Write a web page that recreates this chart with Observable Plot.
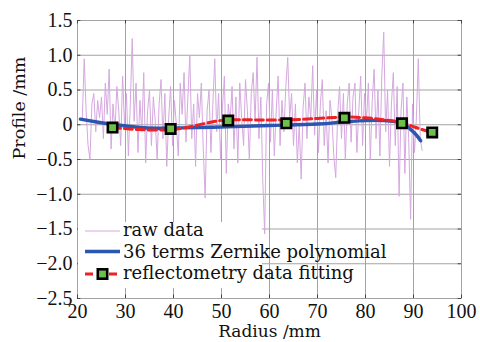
<!DOCTYPE html>
<html><head><meta charset="utf-8">
<script src="https://cdn.jsdelivr.net/npm/d3@7"></script>
<script src="https://cdn.jsdelivr.net/npm/@observablehq/plot@0.6"></script>
<style>
body{margin:0;background:#fff;}
#wrap{position:relative;width:480px;height:342px;font-family:"DejaVu Serif",serif;}
#legend{position:absolute;left:78px;top:222px;width:184px;height:66px;background:#fff;overflow:visible;}
#legend svg{display:block;overflow:visible;}
</style></head><body><div id="wrap"></div>
<script>
// raw profile samples, radius starts at rawStart (mm), spacing rawStep (mm)
const rawStart = 21.0, rawStep = 0.4;
const rawProfile = [
 0.1, 0.95, 0.2, -0.3, -0.5, 0.3, 0.45, -0.1, 0.35, 0.1,
 0.4, -0.2, 0.6, 0.15, 0.8, -0.35, 0.3, -0.1, 0.55, 0.2,
 -0.3, 0.7, 0.0, 0.45, -0.45, 0.3, 1.24, 0.05, 0.6, -0.4,
 0.35, -0.1, 0.75, -0.55, 0.2, 0.5, -0.3, 0.4, 0.05, -0.5,
 0.3, 0.65, -0.2, 0.45, -0.6, 0.1, 0.55, -0.3, 0.35, 0.0,
 -0.45, 0.6, 0.15, 0.75, -0.25, 0.4, 1.0, -0.2, 0.3, -0.6,
 0.45, 0.1, 0.6, -0.35, -1.05, 0.2, 0.5, -0.4, 0.3, 0.95,
 -0.1, 0.45, -0.5, 0.25, 0.7, -0.7, 0.3, 0.05, 0.55, -0.35,
 0.4, -0.55, 0.6, 0.1, -0.3, 0.65, 0.2, -0.5, 0.45, 0.75,
 0.05, 0.97, -0.2, 0.4, -0.8, -1.57, 0.3, 0.6, -0.25, 0.5,
 -0.45, 0.2, 0.7, -0.3, 0.35, -0.1, 0.55, 0.97, 0.1, 0.45,
 -0.3, 0.3, -0.55, 0.0, -0.78, 0.25, 0.6, -0.2, 0.4, 0.1,
 0.85, -0.15, 0.5, -0.4, 0.3, 0.65, -0.3, 0.2, -0.55, 0.35,
 0.1, -0.45, -0.76, 0.15, 0.55, -0.2, 0.45, -0.5, 0.3, 0.6,
 -0.25, 0.4, 0.6, -0.4, 0.2, 0.7, -0.3, 0.45, 0.05, 0.6,
 -0.5, 0.35, 0.8, -0.2, 0.5, -0.45, 0.7, 1.33, -0.1, 0.5,
 -0.6, 0.3, 0.75, -0.3, 0.55, -1.03, 0.2, 0.6, -0.7, 0.4,
 -0.2, -1.36, 0.3, -0.4, 0.1, 0.95, -0.2, -0.37
];
const zernikeR = [20.6, 24, 28, 33, 37, 45, 51, 60, 70, 75, 80, 84, 87.6, 89.3, 90.5, 91.5];
const zernikeV = [0.08, 0.04, 0.0, -0.04, -0.05, -0.04, -0.03, -0.01, 0.01, 0.04, 0.06, 0.06, 0.02, -0.06, -0.14, -0.23];
const fitR = [27.3, 33, 39.4, 44, 48, 51.5, 57, 63.5, 70, 75.6, 80, 84, 87.6, 90.5, 93.9];
const fitV = [-0.04, -0.07, -0.07, -0.02, 0.04, 0.07, 0.07, 0.07, 0.09, 0.11, 0.10, 0.07, 0.03, -0.04, -0.11];
const sampleR = [27.3, 39.4, 51.4, 63.5, 75.6, 87.6, 93.9];
const sampleV = [-0.04, -0.06, 0.06, 0.02, 0.10, 0.02, -0.11];
const xTicks = [20, 30, 40, 50, 60, 70, 80, 90, 100];
const yTicks = [-2.5, -2.0, -1.5, -1.0, -0.5, 0, 0.5, 1.0, 1.5];
const legendLabels = ["raw data", "36 terms Zernike polynomial", "reflectometry data fitting"];
const xLabel = "Radius /mm", yLabel = "Profile /mm";

const C = {raw: "#d6a8e0", zern: "#2a55b0", fit: "#ee2222", sq: "#6cbf48", grid: "#a3a3a3"};
const serif = "'DejaVu Serif', serif";
const numFont = "'Liberation Serif', serif";

const raw = rawProfile.map((v, i) => ({r: +(rawStart + i * rawStep).toFixed(2), v}));
const zern = zernikeR.map((r, i) => ({r, v: zernikeV[i]}));
const fit = fitR.map((r, i) => ({r, v: fitV[i]}));
const samples = sampleR.map((r, i) => ({r, v: sampleV[i]}));
const fmt = d => d === 0 ? "0" : d3.format(".1f")(d);

const plot = Plot.plot({
  width: 480, height: 342,
  marginLeft: 77, marginRight: 19, marginTop: 20, marginBottom: 44,
  style: "font-family: 'DejaVu Serif', serif; font-size: 16px; color: #111; background: #fff;",
  x: {domain: [20, 100]},
  y: {domain: [-2.5, 1.5]},
  marks: [
    Plot.gridX(xTicks, {stroke: C.grid, strokeOpacity: 1}),
    Plot.gridY(yTicks, {stroke: C.grid, strokeOpacity: 1}),
    Plot.frame({stroke: C.grid}),
    Plot.ruleX(xTicks, {x: d => d, y1: -2.5, y2: -2.45, stroke: "#444"}),
    Plot.ruleX(xTicks, {x: d => d, y1: 1.5, y2: 1.45, stroke: "#444"}),
    Plot.ruleY(yTicks, {y: d => d, x1: 20, x2: 20.7, stroke: "#444"}),
    Plot.ruleY(yTicks, {y: d => d, x1: 100, x2: 99.3, stroke: "#444"}),
    Plot.axisX(xTicks, {tickSize: 0, tickPadding: 5, label: null, tickFormat: d => d, fontFamily: numFont, fontSize: 20, fill: "#111"}),
    Plot.axisY(yTicks, {tickSize: 0, tickPadding: 5, label: null, tickFormat: fmt, fontFamily: numFont, fontSize: 20, fill: "#111"}),
    Plot.text([xLabel], {frameAnchor: "bottom", dy: 38, fontSize: 17, fontFamily: serif, fill: "#111"}),
    Plot.text([yLabel], {frameAnchor: "left", dx: -58, rotate: -90, fontSize: 17.5, fontFamily: serif, fill: "#111"}),
    Plot.line(raw, {x: "r", y: "v", stroke: C.raw, strokeWidth: 1}),
    Plot.line(zern, {x: "r", y: "v", stroke: C.zern, strokeWidth: 3.4, curve: "natural"}),
    Plot.line(fit, {x: "r", y: "v", stroke: C.fit, strokeWidth: 3, strokeDasharray: "8,4", curve: "natural"}),
    Plot.dot(samples, {x: "r", y: "v", symbol: "square", r: 5.3, fill: C.sq, stroke: "#000", strokeWidth: 2.6})
  ]
});
const wrap = document.getElementById("wrap");
wrap.appendChild(plot);

// legend (inside plot, lower left, white background)
const lg = document.createElement("div");
lg.id = "legend";
const rows = [14, 35.5, 57];
const sw = [
  `<line x1="7" x2="42" y1="${rows[0]-5}" y2="${rows[0]-5}" stroke="${C.raw}" stroke-width="1"/>`,
  `<line x1="7" x2="42" y1="${rows[1]-6}" y2="${rows[1]-6}" stroke="${C.zern}" stroke-width="3.4"/>`,
  `<line x1="7" x2="42" y1="${rows[2]-5}" y2="${rows[2]-5}" stroke="${C.fit}" stroke-width="3" stroke-dasharray="8,4"/>` +
  `<rect x="${24.5-4.7}" y="${rows[2]-5-4.7}" width="9.4" height="9.4" fill="${C.sq}" stroke="#000" stroke-width="2.6"/>`
];
lg.innerHTML = `<svg width="184" height="66" font-family="DejaVu Serif, serif" font-size="18" fill="#111">` +
  legendLabels.map((t, i) => sw[i] + `<text x="45" y="${rows[i]}">${t}</text>`).join("") + `</svg>`;
wrap.appendChild(lg);
</script>
</body></html>
